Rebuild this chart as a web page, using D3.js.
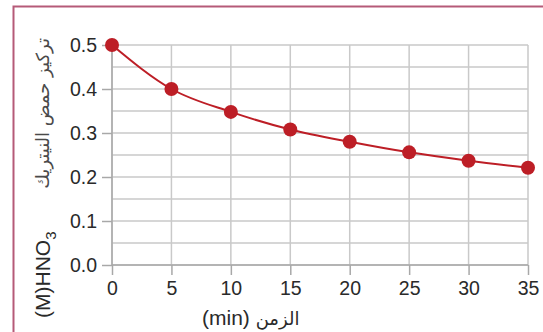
<!DOCTYPE html>
<html>
<head>
<meta charset="utf-8">
<script src="https://cdn.jsdelivr.net/npm/d3@7"></script>
<style>
  html, body { margin: 0; padding: 0; background: #fff; }
  svg { display: block; }
  text { font-family: "Liberation Sans", Arial, "DejaVu Sans", sans-serif; }
</style>
</head>
<body>
<svg id="chart" width="543" height="332"></svg>
<script>
// Concentration of HNO3 over time
const timeMin = [0, 5, 10, 15, 20, 25, 30, 35];
const concentration = [0.5, 0.4, 0.348, 0.308, 0.28, 0.256, 0.237, 0.221];
const xTicks = [0, 5, 10, 15, 20, 25, 30, 35];
const yTicks = [0.0, 0.1, 0.2, 0.3, 0.4, 0.5];
const yGrid = [0, 0.05, 0.1, 0.15, 0.2, 0.25, 0.3, 0.35, 0.4, 0.45, 0.5];
const xTitleLatin = "(min)";
const xTitleArabic = "الزمن";
const yTitleArabic = "تركيز حمض النيتريك";

const svg = d3.select("#chart");
const W = 543, H = 332;

const x = d3.scaleLinear().domain([0, 35]).range([112, 528]);
const y = d3.scaleLinear().domain([0, 0.5]).range([265, 45]);

const red = "#bd1e26";
const gridCol = "#c9c9c9";

// frame
svg.append("path")
  .attr("d", `M13.5,${H} L13.5,6.5 L${W},6.5`)
  .attr("fill", "none")
  .attr("stroke", "#b55a78")
  .attr("stroke-width", 2);

// grid
const g = svg.append("g");
g.selectAll("line.h").data(yGrid).join("line")
  .attr("x1", x(0)).attr("x2", x(35))
  .attr("y1", d => y(d)).attr("y2", d => y(d))
  .attr("stroke", gridCol).attr("stroke-width", 1.5);
g.selectAll("line.v").data(xTicks).join("line")
  .attr("x1", d => x(d)).attr("x2", d => x(d))
  .attr("y1", y(0.5)).attr("y2", y(0))
  .attr("stroke", gridCol).attr("stroke-width", 1.5);

// axes
const xAxis = d3.axisBottom(x).tickValues(xTicks).tickSize(10).tickPadding(6)
  .tickFormat(d3.format("d"));
const yAxis = d3.axisLeft(y).tickValues(yTicks).tickSize(10).tickPadding(5)
  .tickFormat(d3.format(".1f"));

const gx = svg.append("g").attr("transform", `translate(0,${y(0)})`).call(xAxis);
const gy = svg.append("g").attr("transform", `translate(${x(0)},0)`).call(yAxis);
[gx, gy].forEach(a => {
  a.select(".domain").remove();
  a.selectAll(".tick line").attr("stroke", "#a8a8a8").attr("stroke-width", 1.5);
  a.selectAll(".tick text")
    .attr("fill", "#2a2a2a")
    .style("font-size", "19.5px")
    .style("font-family", "'Liberation Sans', Arial, sans-serif");
});
svg.append("line").attr("x1", x(0)).attr("x2", x(35)).attr("y1", y(0)).attr("y2", y(0))
  .attr("stroke", "#a8a8a8").attr("stroke-width", 1.5);
svg.append("line").attr("x1", x(0)).attr("x2", x(0)).attr("y1", y(0.5)).attr("y2", y(0))
  .attr("stroke", "#a8a8a8").attr("stroke-width", 1.5);

// curve
const line = d3.line()
  .x((d, i) => x(timeMin[i]))
  .y(d => y(d))
  .curve(d3.curveMonotoneX);
svg.append("path")
  .datum(concentration)
  .attr("d", line)
  .attr("fill", "none")
  .attr("stroke", red)
  .attr("stroke-width", 2);

svg.selectAll("circle.pt").data(concentration).join("circle")
  .attr("class", "pt")
  .attr("cx", (d, i) => x(timeMin[i]))
  .attr("cy", d => y(d))
  .attr("r", 7)
  .attr("fill", red);

// x title
const xt = svg.append("text")
  .attr("x", 202).attr("y", 325)
  .attr("fill", "#2a2a2a")
  .style("font-size", "21px");
xt.append("tspan").text(xTitleLatin + " ");
xt.append("tspan").style("font-family", "'DejaVu Sans', sans-serif").style("font-size", "18px").text(xTitleArabic);

// y title
const yt = svg.append("g").attr("transform", "translate(50,318) rotate(-90)");
const yl = yt.append("text").attr("x", 0).attr("y", 0)
  .attr("fill", "#2a2a2a").style("font-size", "21px");
yl.append("tspan").text("(M)HNO");
yl.append("tspan").attr("dy", 6).style("font-size", "15px").text("3");
svg.append("text")
  .attr("transform", "translate(49,38) rotate(-90)")
  .attr("text-anchor", "end")
  .attr("fill", "#4a4a4a")
  .style("font-family", "'DejaVu Sans', sans-serif")
  .style("font-size", "18px")
  .text(yTitleArabic);
</script>
</body>
</html>
